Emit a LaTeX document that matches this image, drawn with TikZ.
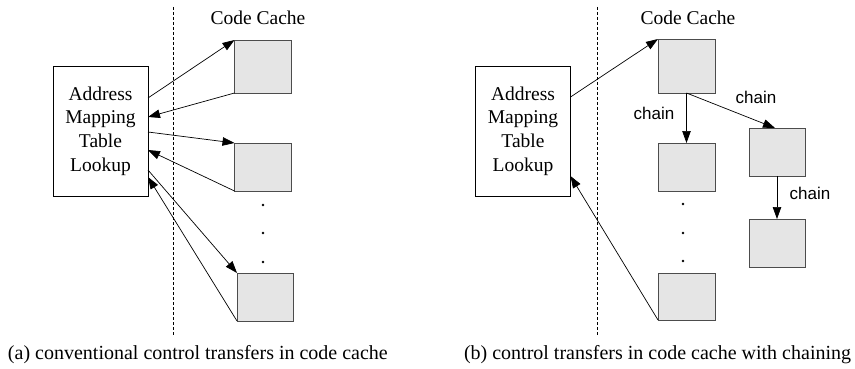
\documentclass[tikz,border=0pt]{standalone}
\usepackage{fontspec}
\setmainfont{Liberation Serif}
\newfontfamily\chainfont{Liberation Sans}
\usetikzlibrary{arrows.meta}
\begin{document}
\begin{tikzpicture}[x=1pt,y=-1pt,
  every node/.style={inner sep=0pt,outer sep=0pt},
  amtl/.style={draw=black,line width=0.8pt,minimum width=95pt,minimum height=130pt,align=center,font=\fontsize{19.5}{23.6}\selectfont},
  cbox/.style={draw=black!70,fill=black!10,line width=0.9pt,minimum width=57pt},
  conn/.style={line width=0.7pt,-{Triangle[length=12pt,width=8.5pt]}},
  divider/.style={line width=0.6pt,dash pattern=on 3pt off 2pt},
  title/.style={font=\fontsize{19.5}{23}\selectfont,anchor=base},
  chainlbl/.style={font=\chainfont\fontsize{17}{19}\selectfont},
  caption/.style={font=\fontsize{20}{23}\selectfont,anchor=base west},
  dotmark/.style={circle,fill=black,minimum size=2.6pt}]
\useasboundingbox (0,0) rectangle (855,369);

% ---------- (a) ----------
\draw[divider] (173,7) -- (173,335);
\node[amtl] (la) at (100.5,131) {Address\\Mapping\\Table\\Lookup};
\node[title] (lcc) at (258,25) {Code Cache};
\node[cbox,minimum height=53pt] (b1) at (263,66.5) {};
\node[cbox,minimum height=48pt] (b2) at (263,167) {};
\node[cbox,minimum width=56pt,minimum height=48pt] (b3) at (265,297) {};
\node[dotmark] (ld1) at (263,205) {};
\node[dotmark] (ld2) at (263,233) {};
\node[dotmark] (ld3) at (263,262) {};

\draw[conn] ([yshift=-32pt]la.north east) -- (b1.north west);
\draw[conn] (b1.south west) -- ([yshift=-51pt]la.north east);
\draw[conn] ([yshift=-66pt]la.north east) -- (b2.north west);
\draw[conn] (b2.south west) -- ([yshift=-84pt]la.north east);
\draw[conn] ([yshift=-104pt]la.north east) -- (b3.north west);
\draw[conn] (b3.south west) -- ([yshift=-111pt]la.north east);

\node[caption] (capa) at (8,359) {(a) conventional control transfers in code cache};

% ---------- (b) ----------
\draw[divider] (597,7) -- (597,335);
\node[amtl] (ra) at (523,131) {Address\\Mapping\\Table\\Lookup};
\node[title] (rcc) at (688,25) {Code Cache};
\node[cbox,minimum height=54pt] (rA) at (686.5,66) {};
\node[cbox,minimum height=48pt] (rB) at (686.5,167) {};
\node[cbox,minimum height=47pt] (rC) at (686.5,296.5) {};
\node[cbox,minimum width=56pt,minimum height=48pt] (rD) at (777,152) {};
\node[cbox,minimum width=56pt,minimum height=48pt] (rE) at (777,243) {};
\node[dotmark] (rd1) at (683,204) {};
\node[dotmark] (rd2) at (683,233) {};
\node[dotmark] (rd3) at (683,261) {};

\draw[conn] ([yshift=-31pt]ra.north east) -- (rA.north west);
\draw[conn] (rC.south west) -- ([yshift=-110pt]ra.north east);
\draw[conn] (rA.south) -- (rB.north);
\draw[conn] (rA.south) -- ([xshift=-2pt]rD.north);
\draw[conn] (rD.south) -- (rE.north);

\node[chainlbl] (ch1) at (654,113) {chain};
\node[chainlbl] (ch2) at (756,97) {chain};
\node[chainlbl] (ch3) at (810,193) {chain};

\node[caption] (capb) at (464,359) {(b) control transfers in code cache with chaining};
\end{tikzpicture}
\end{document}
